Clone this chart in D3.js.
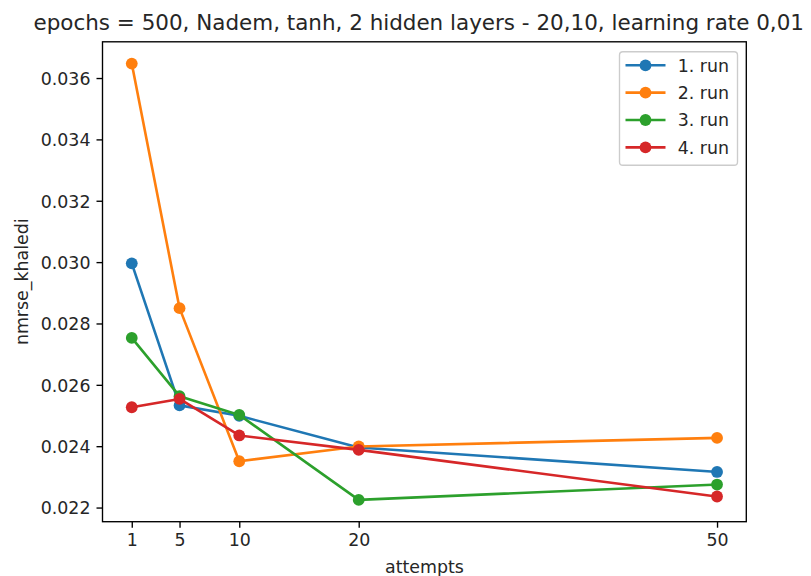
<!DOCTYPE html>
<html>
<head>
<meta charset="utf-8">
<script src="https://cdn.jsdelivr.net/npm/d3@7"></script>
<style>
  html, body { margin: 0; padding: 0; background: #fff; }
  svg { display: block; font-family: "DejaVu Sans", sans-serif; }
</style>
</head>
<body>
<svg id="chart" width="811" height="576"></svg>
<script>
const attempts = [1, 5, 10, 20, 50];
const run1 = [0.02996, 0.02533, 0.02499, 0.02396, 0.02316];
const run2 = [0.03647, 0.02850, 0.02351, 0.02399, 0.02427];
const run3 = [0.02753, 0.02563, 0.02502, 0.02225, 0.02275];
const run4 = [0.02527, 0.02554, 0.02435, 0.02388, 0.02236];
const seriesNames = ["1. run", "2. run", "3. run", "4. run"];
const seriesColors = ["#1f77b4", "#ff7f0e", "#2ca02c", "#d62728"];
const xTicks = [1, 5, 10, 20, 50];
const yTicks = [0.022, 0.024, 0.026, 0.028, 0.030, 0.032, 0.034, 0.036];
const titleText = "epochs = 500, Nadem, tanh, 2 hidden layers - 20,10, learning rate 0,01";
const xLabel = "attempts";
const yLabel = "nmrse_khaledi";

const allSeries = [run1, run2, run3, run4];
const svg = d3.select("#chart");

const L = 102.5, R = 746.3, T = 41.8, B = 521.7;
const fs = 17.4;

const xmin = d3.min(attempts), xmax = d3.max(attempts);
const xm = (xmax - xmin) * 0.05;
const x = d3.scaleLinear().domain([xmin - xm, xmax + xm]).range([L, R]);
const allVals = allSeries.flat();
const ymin = d3.min(allVals), ymax = d3.max(allVals);
const ym = (ymax - ymin) * 0.05;
const y = d3.scaleLinear().domain([ymin - ym, ymax + ym]).range([B, T]);

// axes
const xAxis = d3.axisBottom(x).tickValues(xTicks).tickSize(6).tickPadding(6).tickFormat(d3.format("d"));
const yAxis = d3.axisLeft(y).tickValues(yTicks).tickSize(6).tickPadding(6).tickFormat(d3.format(".3f"));

const gx = svg.append("g").attr("transform", `translate(0,${B})`).call(xAxis);
const gy = svg.append("g").attr("transform", `translate(${L},0)`).call(yAxis);
[gx, gy].forEach(g => {
  g.select(".domain").remove();
  g.selectAll(".tick line").attr("stroke", "#000").attr("stroke-width", 1.36);
  g.selectAll(".tick text").attr("fill", "#262626").attr("font-size", fs)
    .attr("font-family", "DejaVu Sans, sans-serif");
});
gx.selectAll(".tick text").attr("dy", null).attr("y", 24.8);
gy.selectAll(".tick text").attr("dy", "0.36em");

// lines + markers
const line = d3.line().x((d, i) => x(attempts[i])).y(d => y(d));
allSeries.forEach((s, k) => {
  const g = svg.append("g");
  g.append("path").datum(s).attr("d", line).attr("fill", "none")
    .attr("stroke", seriesColors[k]).attr("stroke-width", 2.6)
    .attr("stroke-linejoin", "round").attr("stroke-linecap", "square");
  g.selectAll("circle").data(s).join("circle")
    .attr("cx", (d, i) => x(attempts[i])).attr("cy", d => y(d))
    .attr("r", 5.9).attr("fill", seriesColors[k]);
});

// frame
svg.append("rect").attr("x", L).attr("y", T).attr("width", R - L).attr("height", B - T)
  .attr("fill", "none").attr("stroke", "#000").attr("stroke-width", 1.36);

// legend
const lg = svg.append("g");
lg.append("rect").attr("x", 619.5).attr("y", 51.8).attr("width", 118).attr("height", 113.5)
  .attr("rx", 3.4).attr("fill", "#fff").attr("fill-opacity", 0.8)
  .attr("stroke", "#cccccc").attr("stroke-width", 1.36);
seriesNames.forEach((name, k) => {
  const cy = 65.3 + k * 27.35;
  lg.append("line").attr("x1", 625.5).attr("x2", 665.5).attr("y1", cy).attr("y2", cy)
    .attr("stroke", seriesColors[k]).attr("stroke-width", 2.6);
  lg.append("circle").attr("cx", 645.5).attr("cy", cy).attr("r", 5.9).attr("fill", seriesColors[k]);
  lg.append("text").attr("x", 677.7).attr("y", cy).attr("dy", "0.36em")
    .attr("font-size", fs).attr("fill", "#262626").text(name);
});

// title
svg.append("text").attr("x", 33.5).attr("y", 29.5).attr("font-size", 20.6)
  .attr("fill", "#262626").attr("textLength", 770.5).attr("lengthAdjust", "spacingAndGlyphs")
  .text(titleText);

// axis labels
svg.append("text").attr("x", (L + R) / 2).attr("y", 573).attr("text-anchor", "middle")
  .attr("font-size", fs).attr("fill", "#262626").text(xLabel);
svg.append("text").attr("transform", `translate(28,${(T + B) / 2}) rotate(-90)`)
  .attr("text-anchor", "middle").attr("font-size", fs).attr("fill", "#262626").text(yLabel);
</script>
</body>
</html>
